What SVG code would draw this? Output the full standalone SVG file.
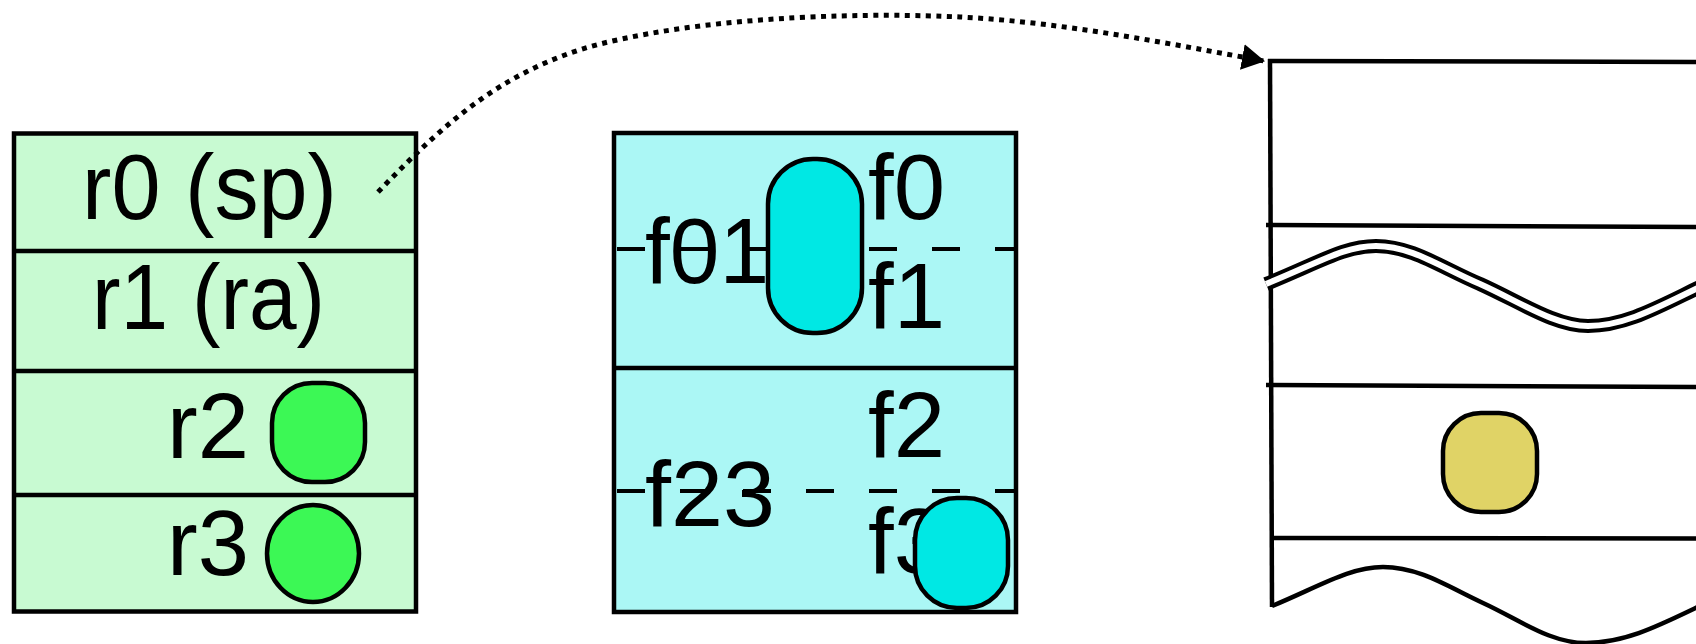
<svg xmlns="http://www.w3.org/2000/svg" width="1696" height="644" viewBox="0 0 1696 644">
<style>
.box{stroke:#000;stroke-width:4.5}
.ln{stroke:#000;stroke-width:4.5;fill:none}
.t{font-family:"Liberation Sans",Arial,sans-serif;font-size:92px;fill:#000}
.pill{stroke:#000;stroke-width:4.5}
.dash{stroke:#000;stroke-width:4;stroke-dasharray:28 35;fill:none}
</style>
<defs>
<marker id="arr" markerWidth="24" markerHeight="26" refX="22" refY="13" orient="auto" markerUnits="userSpaceOnUse">
<path d="M0,0 L23,13 L0,26 Z" fill="#000"/>
</marker>
</defs>
<rect width="1696" height="644" fill="#fff"/>

<g id="int-regs">
<rect class="box" x="14" y="133.5" width="402" height="478" fill="#C8FAD2"/>
<line class="ln" x1="14" y1="251" x2="416" y2="251"/>
<line class="ln" x1="14" y1="371" x2="416" y2="371"/>
<line class="ln" x1="14" y1="495" x2="416" y2="495"/>
<text class="t" x="82" y="219" textLength="255" lengthAdjust="spacingAndGlyphs">r0 (sp)</text>
<text class="t" x="92" y="329" textLength="233" lengthAdjust="spacingAndGlyphs">r1 (ra)</text>
<text class="t" x="167" y="458" textLength="82" lengthAdjust="spacingAndGlyphs">r2</text>
<text class="t" x="167" y="575" textLength="82" lengthAdjust="spacingAndGlyphs">r3</text>
<rect class="pill" x="272" y="383" width="93" height="99" rx="40" fill="#3CF855"/>
<ellipse class="pill" cx="313" cy="553.5" rx="46" ry="48.5" fill="#3CF855"/>
</g>

<g id="fp-regs">
<rect class="box" x="614" y="133" width="402" height="479" fill="#ABF7F5"/>
<line class="ln" x1="614" y1="368" x2="1016" y2="368"/>
<text class="t" x="645" y="283" textLength="124" lengthAdjust="spacingAndGlyphs">f01</text>
<text class="t" x="645" y="526" textLength="130" lengthAdjust="spacingAndGlyphs">f23</text>
<text class="t" x="868" y="219" textLength="77" lengthAdjust="spacingAndGlyphs">f0</text>
<text class="t" x="868" y="328" textLength="77" lengthAdjust="spacingAndGlyphs">f1</text>
<text class="t" x="868" y="457" textLength="77" lengthAdjust="spacingAndGlyphs">f2</text>
<text class="t" x="868" y="573" textLength="77" lengthAdjust="spacingAndGlyphs">f3</text>
<line class="dash" x1="617" y1="249" x2="1014" y2="249"/>
<line class="dash" x1="617" y1="491" x2="1014" y2="491"/>
<rect class="pill" x="768" y="159" width="94" height="174" rx="45" fill="#00E8E4"/>
<rect class="pill" x="915" y="498" width="93" height="110" rx="42" fill="#00E8E4"/>
</g>

<g id="stack">
<line class="ln" x1="1268" y1="61" x2="1700" y2="62"/>
<line class="ln" x1="1270" y1="59" x2="1272" y2="607"/>
<line class="ln" x1="1266" y1="225" x2="1700" y2="227"/>
<line class="ln" x1="1266" y1="385" x2="1700" y2="387"/>
<line class="ln" x1="1270" y1="538" x2="1700" y2="538.5"/>
<path d="M1266,284 C1320,262 1345,246 1376,246 C1412,246 1442,268 1480,284 C1520,302 1555,326 1588,326 C1626,326 1660,306 1702,286" fill="none" stroke="#000" stroke-width="14"/>
<path d="M1266,284 C1320,262 1345,246 1376,246 C1412,246 1442,268 1480,284 C1520,302 1555,326 1588,326 C1626,326 1660,306 1702,286" fill="none" stroke="#fff" stroke-width="6"/>
<path class="ln" d="M1272,606 C1320,586 1350,567 1383,567 C1420,567 1450,588 1483,603 C1520,620 1550,643 1586,643 C1626,643 1660,625 1702,605"/>
<rect class="pill" x="1443" y="413" width="94" height="99" rx="38" fill="#E0D366"/>
</g>

<g id="connectors">
<path d="M378,192 C440,128 500,70 600,44 C720,14 880,13 960,17 C1060,22 1160,42 1264,61" fill="none" stroke="#000" stroke-width="5" stroke-dasharray="5 5.5" marker-end="url(#arr)"/>
</g>
</svg>
